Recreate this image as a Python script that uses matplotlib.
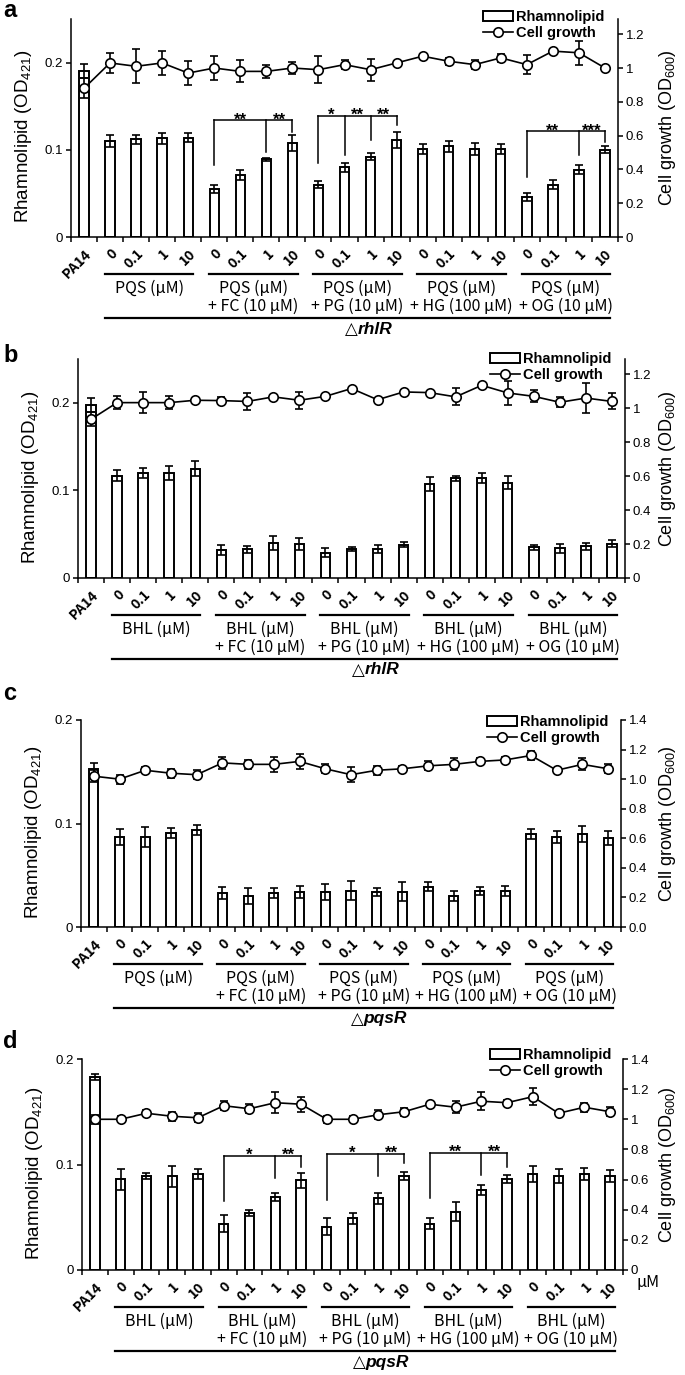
import matplotlib.pyplot as plt
import matplotlib.transforms as mtransforms
from matplotlib.patches import Patch
from matplotlib.lines import Line2D
import numpy as np

plt.rcParams['font.family'] = ['Liberation Sans', 'DejaVu Sans']
plt.rcParams['mathtext.fontset'] = 'custom'
plt.rcParams['mathtext.rm'] = 'Liberation Sans'
plt.rcParams['mathtext.it'] = 'Liberation Sans:italic'

W, H = 685, 1375

x_labels = ['PA14'] + ['0', '0.1', '1', '10'] * 5
pqs_line1 = ['PQS (µM)'] * 5
bhl_line1 = ['BHL (µM)'] * 5
treat_line2 = ['', '+ FC (10 µM)', '+ PG (10 µM)', '+ HG (100 µM)', '+ OG (10 µM)']

# a: PQS, rhlR mutant
rham_a = [0.190, 0.110, 0.112, 0.113, 0.114, 0.055, 0.071, 0.089, 0.108, 0.060, 0.080,
          0.092, 0.111, 0.101, 0.104, 0.101, 0.101, 0.046, 0.060, 0.077, 0.100]
rham_a_err = [0.008, 0.007, 0.005, 0.006, 0.005, 0.005, 0.006, 0.002, 0.009, 0.004, 0.005,
              0.004, 0.009, 0.006, 0.006, 0.007, 0.006, 0.005, 0.005, 0.005, 0.004]
growth_a = [0.88, 1.03, 1.01, 1.03, 0.97, 1.00, 0.98, 0.98, 1.00, 0.99, 1.02,
            0.99, 1.03, 1.07, 1.04, 1.02, 1.06, 1.02, 1.10, 1.09, 1.00]
growth_a_err = [0.06, 0.06, 0.10, 0.07, 0.07, 0.07, 0.065, 0.04, 0.035, 0.08, 0.025,
                0.065, 0.01, 0.01, 0.02, 0.025, 0.025, 0.055, 0.015, 0.07, 0.01]

# b: BHL, rhlR mutant
rham_b = [0.197, 0.117, 0.120, 0.120, 0.125, 0.032, 0.033, 0.040, 0.039, 0.029, 0.033,
          0.033, 0.038, 0.107, 0.114, 0.114, 0.109, 0.035, 0.034, 0.036, 0.039]
rham_b_err = [0.008, 0.006, 0.006, 0.008, 0.009, 0.006, 0.004, 0.008, 0.007, 0.005, 0.002,
              0.005, 0.003, 0.008, 0.003, 0.006, 0.007, 0.003, 0.005, 0.004, 0.004]
growth_b = [0.935, 1.033, 1.033, 1.033, 1.047, 1.045, 1.04, 1.067, 1.047, 1.07, 1.116,
            1.05, 1.096, 1.092, 1.067, 1.135, 1.09, 1.07, 1.035, 1.06, 1.04]
growth_b_err = [0.04, 0.04, 0.06, 0.04, 0.01, 0.02, 0.05, 0.01, 0.05, 0.01, 0.006,
                0.006, 0.01, 0.01, 0.05, 0.01, 0.07, 0.035, 0.03, 0.09, 0.047]

# c: PQS, pqsR mutant
rham_c = [0.153, 0.087, 0.087, 0.091, 0.094, 0.033, 0.030, 0.033, 0.034, 0.034, 0.035,
          0.034, 0.034, 0.039, 0.030, 0.035, 0.035, 0.090, 0.087, 0.090, 0.086]
rham_c_err = [0.005, 0.008, 0.010, 0.005, 0.005, 0.006, 0.008, 0.005, 0.006, 0.008, 0.009,
              0.004, 0.009, 0.004, 0.005, 0.004, 0.005, 0.005, 0.006, 0.008, 0.007]
growth_c = [1.02, 1.00, 1.06, 1.04, 1.03, 1.11, 1.10, 1.10, 1.12, 1.07, 1.03,
            1.06, 1.07, 1.09, 1.10, 1.12, 1.13, 1.16, 1.06, 1.10, 1.07]
growth_c_err = [0.04, 0.03, 0.02, 0.03, 0.03, 0.04, 0.03, 0.05, 0.05, 0.03, 0.05,
                0.03, 0.02, 0.03, 0.04, 0.02, 0.02, 0.03, 0.01, 0.04, 0.03]

# d: BHL, pqsR mutant
rham_d = [0.183, 0.086, 0.089, 0.089, 0.091, 0.044, 0.054, 0.069, 0.085, 0.041, 0.049,
          0.068, 0.089, 0.044, 0.055, 0.076, 0.086, 0.091, 0.089, 0.091, 0.089]
rham_d_err = [0.003, 0.010, 0.003, 0.010, 0.005, 0.008, 0.003, 0.004, 0.007, 0.008, 0.005,
              0.005, 0.004, 0.005, 0.009, 0.005, 0.004, 0.008, 0.007, 0.006, 0.006]
growth_d = [1.00, 1.00, 1.04, 1.02, 1.01, 1.09, 1.07, 1.11, 1.10, 1.00, 1.00,
            1.03, 1.05, 1.10, 1.08, 1.12, 1.11, 1.15, 1.04, 1.08, 1.05]
growth_d_err = [0.03, 0.02, 0.02, 0.03, 0.03, 0.03, 0.03, 0.07, 0.05, 0.025, 0.02,
                0.03, 0.025, 0.01, 0.04, 0.06, 0.02, 0.055, 0.01, 0.03, 0.03]

# significance brackets: (drop positions, bracket level, drop ends, stars)
brackets_a = [([5, 7, 8], 0.134, [0.082, 0.097, 0.120], ['**', '**']),
              ([9, 10, 11, 12], 0.139, [0.085, 0.094, 0.111, 0.128], ['*', '**', '**']),
              ([17, 19, 20], 0.121, [0.069, 0.094, 0.109], ['**', '***'])]
brackets_d = [([5, 7, 8], 0.1085, [0.065, 0.087, 0.098], ['*', '**']),
              ([9, 11, 12], 0.110, [0.066, 0.089, 0.101], ['*', '**']),
              ([13, 15, 16], 0.111, [0.068, 0.090, 0.098], ['**', '**'])]

fig = plt.figure(figsize=(W / 100, H / 100), dpi=100)


def fy(px):
    return 1 - px / H


def draw_panel(box, rham, rham_err, growth, growth_err, rmax, gmax, gticks, glabels,
               line1, strain, brackets, tag, tag_y, leg_top, leg_right, um=False):
    left, right, top, bottom = box
    ax = fig.add_axes([left / W, fy(bottom), (right - left) / W, (bottom - top) / H])
    ax2 = ax.twinx()
    x = np.arange(len(rham))

    ax.bar(x, rham, width=0.36, color='white', edgecolor='black', linewidth=1.4,
           yerr=rham_err, zorder=2,
           error_kw=dict(ecolor='black', elinewidth=1.2, capsize=2.6, capthick=1.2))
    ax2.errorbar(x, growth, yerr=growth_err, fmt='-o', color='black', lw=1.2, ms=6.8,
                 mfc='white', mec='black', mew=1.2, capsize=2.6, elinewidth=1.2,
                 capthick=1.2, zorder=3)

    ax.set_xlim(-0.5, len(rham) - 0.5)
    ax.set_ylim(0, rmax)
    ax2.set_ylim(0, gmax)
    ax.set_yticks([0, 0.1, 0.2])
    ax.set_yticklabels(['0', '0.1', '0.2'])
    ax2.set_yticks(gticks)
    ax2.set_yticklabels(glabels)

    ax.set_xticks(np.arange(-0.5, len(rham), 1))
    ax.set_xticklabels([])
    ax.set_xticks(x, minor=True)
    ax.set_xticklabels(x_labels, minor=True, rotation=45, ha='right',
                       rotation_mode='anchor', fontsize=10, fontweight='bold',
                       family=['Noto Sans CJK KR', 'DejaVu Sans'])
    ax.tick_params(axis='x', which='major', direction='out', length=3.5, width=1.1)
    ax.tick_params(axis='x', which='minor', length=0, pad=7)
    ax.tick_params(axis='y', direction='out', length=3.5, width=1.1, labelsize=9.5, pad=2)
    ax2.tick_params(axis='y', direction='out', length=3.5, width=1.1, labelsize=9.5, pad=2)

    for s in ['top', 'right']:
        ax.spines[s].set_visible(False)
    for s in ['top', 'left', 'bottom']:
        ax2.spines[s].set_visible(False)
    for sp in list(ax.spines.values()) + list(ax2.spines.values()):
        sp.set_linewidth(1.1)

    wpx = right - left
    ax.set_ylabel('Rhamnolipid (OD$_{421}$)', fontsize=13.5)
    ax.yaxis.set_label_coords(-37 / wpx, 0.46)
    ax2.set_ylabel('Cell growth (OD$_{600}$)', fontsize=13)
    ax2.yaxis.set_label_coords((657 - left) / wpx, 0.5)

    # significance brackets
    for drops, level, ends, stars in brackets:
        ax.plot([drops[0], drops[-1]], [level, level], color='black', lw=1.1, zorder=4)
        for d, e in zip(drops, ends):
            ax.plot([d, d], [e, level], color='black', lw=1.1, zorder=4)
        for i, st in enumerate(stars):
            mid = (drops[i] + drops[i + 1]) / 2
            ax.annotate(st, (mid, level), xytext=(0, -3), textcoords='offset points',
                        ha='center', va='baseline', fontsize=12, fontweight='bold')

    # legend
    handles = [Patch(facecolor='white', edgecolor='black', linewidth=1.4),
               Line2D([], [], color='black', lw=1.2, marker='o', ms=6.8, mfc='white',
                      mec='black', mew=1.2)]
    ax2.legend(handles, ['Rhamnolipid', 'Cell growth'], loc='upper right',
               bbox_to_anchor=(leg_right / W, fy(leg_top)), bbox_transform=fig.transFigure,
               frameon=False, borderpad=0, borderaxespad=0, handlelength=2.1,
               handletextpad=0.15, labelspacing=0.15, prop=dict(size=10.5, weight='bold'))

    # group labels below the axis
    trans = mtransforms.blended_transform_factory(ax.transData, fig.transFigure)
    zero = bottom
    gfont = dict(family=['Noto Sans CJK KR', 'DejaVu Sans'], fontsize=11.5)
    for g in range(5):
        g0 = 1 + 4 * g
        ax.plot([g0 - 0.2, g0 + 3.2], [fy(zero + 37)] * 2, color='black', lw=1.6,
                transform=trans, clip_on=False)
        ax.text(g0 + 1.5, fy(zero + 51), line1[g], transform=trans, ha='center',
                va='center', **gfont)
        if treat_line2[g]:
            ax.text(g0 + 1.5, fy(zero + 69), treat_line2[g], transform=trans,
                    ha='center', va='center', **gfont)
    ax.plot([0.8, 20.2], [fy(zero + 81)] * 2, color='black', lw=1.6,
            transform=trans, clip_on=False)
    ax.text(10.5, fy(zero + 92), '△', transform=trans, ha='right', va='center',
            fontsize=12, family=['DejaVu Sans'])
    ax.text(10.5, fy(zero + 92), strain, transform=trans, ha='left', va='center',
            fontsize=12.5, style='italic', fontweight='bold')
    if um:
        fig.text(648 / W, fy(zero + 13), 'µM', ha='center', va='center', **gfont)

    fig.text(3 / W, fy(tag_y), tag, fontsize=17, fontweight='bold', va='baseline')


draw_panel((71, 618, 19, 237), rham_a, rham_a_err, growth_a, growth_a_err, 0.25, 1.29,
           [0, 0.2, 0.4, 0.6, 0.8, 1.0, 1.2], ['0', '0.2', '0.4', '0.6', '0.8', '1', '1.2'],
           pqs_line1, 'rhlR', brackets_a, 'a', 17, 10, 604)
draw_panel((78, 625, 359, 578), rham_b, rham_b_err, growth_b, growth_b_err, 0.25, 1.29,
           [0, 0.2, 0.4, 0.6, 0.8, 1.0, 1.2], ['0', '0.2', '0.4', '0.6', '0.8', '1', '1.2'],
           bhl_line1, 'rhlR', [], 'b', 362, 352, 611)
draw_panel((81, 621, 720, 927), rham_c, rham_c_err, growth_c, growth_c_err, 0.2, 1.4,
           [0, 0.2, 0.4, 0.6, 0.8, 1.0, 1.2, 1.4],
           ['0.0', '0.2', '0.4', '0.6', '0.8', '1.0', '1.2', '1.4'],
           pqs_line1, 'pqsR', [], 'c', 700, 715, 608)
draw_panel((82, 623, 1059, 1270), rham_d, rham_d_err, growth_d, growth_d_err, 0.2, 1.4,
           [0, 0.2, 0.4, 0.6, 0.8, 1.0, 1.2, 1.4],
           ['0', '0.2', '0.4', '0.6', '0.8', '1', '1.2', '1.4'],
           bhl_line1, 'pqsR', brackets_d, 'd', 1048, 1048, 611, um=True)

fig.savefig('out.png', dpi=100)
